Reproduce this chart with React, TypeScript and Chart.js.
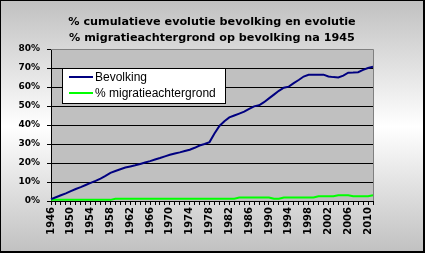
import React, { useEffect, useRef } from "react";
import { Chart, registerables } from "chart.js";

Chart.register(...registerables);

const years: string[] = [];
for (let y = 1946; y <= 2011; y++) years.push(String(y));

const bevolking: number[] = [
  1, 2, 3, 4, 5.2, 6.3, 7.3, 8.4, 9.5, 10.6,
  11.8, 13.2, 14.8, 15.8, 16.7, 17.6, 18.2, 18.8, 19.5, 20.3,
  21, 21.8, 22.6, 23.5, 24.3, 25.0, 25.6, 26.3, 27.0, 28.0,
  29.2, 30.0, 31.0, 35.5, 39.5, 42.0, 44, 45, 46, 47,
  48.5, 49.8, 50.4, 52, 54, 56, 58, 59.6, 60.2, 62,
  63.7, 65.5, 66.4, 66.5, 66.5, 66.5, 65.5, 65.2, 65, 66,
  67.5, 67.6, 67.8, 69, 70, 70.7,
];

const migratie: number[] = [
  0.6, 0.6, 0.6, 0.6, 0.6, 0.6, 0.6, 0.6, 0.6, 0.6,
  0.6, 0.6, 0.6, 1.2, 1.2, 1.2, 1.2, 1.2, 1.2, 1.2,
  1.2, 1.2, 1.2, 1.2, 1.2, 1.2, 1.2, 1.2, 1.2, 1.2,
  1.2, 1.2, 1.2, 1.2, 1.2, 1.2, 1.2, 1.2, 1.8, 1.8,
  1.8, 1.8, 1.8, 1.8, 1.8, 1.2, 1.2, 1.8, 1.8, 1.8,
  1.8, 1.8, 1.8, 1.8, 2.5, 2.5, 2.5, 2.5, 3.0, 3.0,
  3.0, 2.5, 2.5, 2.5, 2.5, 3.0,
];

const seriesNames = ["Bevolking", "% migratieachtergrond"];
const titleLines = [
  "% cumulatieve evolutie bevolking en evolutie",
  "% migratieachtergrond op bevolking na 1945",
];

const bgPlugin = {
  id: "bgPlugin",
  beforeDraw(chart: any) {
    const { ctx, width, height, chartArea } = chart;
    ctx.save();
    const g = ctx.createLinearGradient(0, 0, 0, height);
    g.addColorStop(0, "#c0c0c0");
    g.addColorStop(0.5, "#ffffff");
    g.addColorStop(1, "#c0c0c0");
    ctx.fillStyle = g;
    ctx.fillRect(0, 0, width, height);
    ctx.fillStyle = "#c0c0c0";
    ctx.fillRect(chartArea.left, chartArea.top, chartArea.right - chartArea.left, chartArea.bottom - chartArea.top);
    ctx.restore();
  },
  afterDatasetsDraw(chart: any) {
    const { ctx, width, height, chartArea } = chart;
    ctx.save();
    ctx.strokeStyle = "#808080";
    ctx.lineWidth = 1;
    ctx.beginPath();
    ctx.moveTo(chartArea.left, chartArea.top + 0.5);
    ctx.lineTo(chartArea.right + 0.5, chartArea.top + 0.5);
    ctx.lineTo(chartArea.right + 0.5, chartArea.bottom);
    ctx.stroke();
    ctx.strokeStyle = "#000";
    ctx.strokeRect(0.5, 0.5, width - 1, height - 1);
    ctx.fillStyle = "#000";
    ctx.fillRect(width - 2, 0, 2, height);
    ctx.fillRect(0, height - 2, width, 2);

    // title
    ctx.fillStyle = "#000";
    ctx.font = "bold 11.2px 'DejaVu Sans', Verdana, sans-serif";
    ctx.textAlign = "center";
    ctx.textBaseline = "middle";
    titleLines.forEach((t, i) => ctx.fillText(t, 212, 22 + i * 16));

    // legend box
    const lx = chartArea.left + 11;
    const ly = chartArea.top + 19;
    const lw = 163;
    const lh = 35;
    ctx.fillStyle = "#ffffff";
    ctx.fillRect(lx, ly, lw, lh);
    ctx.strokeStyle = "#000";
    ctx.strokeRect(lx + 0.5, ly + 0.5, lw, lh);
    chart.data.datasets.forEach((ds: any, i: number) => {
      const cy = ly + 9 + i * 16;
      ctx.strokeStyle = ds.borderColor;
      ctx.lineWidth = 2;
      ctx.beginPath();
      ctx.moveTo(lx + 7, cy);
      ctx.lineTo(lx + 31, cy);
      ctx.stroke();
      ctx.fillStyle = "#000";
      ctx.font = "12px 'Liberation Sans', Arial, sans-serif";
      ctx.textBaseline = "middle";
      ctx.textAlign = "left";
      ctx.fillText(ds.label, lx + 33, cy + 0.5);
    });
    ctx.restore();
  },
};

export default function App() {
  const ref = useRef<HTMLCanvasElement>(null);
  useEffect(() => {
    document.body.style.margin = "0";
    const chart = new Chart(ref.current!, {
      type: "line",
      data: {
        labels: years,
        datasets: [
          {
            label: seriesNames[0],
            data: bevolking,
            borderColor: "#000080",
            borderWidth: 2,
            pointRadius: 0,
            tension: 0,
          },
          {
            label: seriesNames[1],
            data: migratie,
            borderColor: "#00ff00",
            borderWidth: 2,
            pointRadius: 0,
            tension: 0,
          },
        ],
      },
      options: {
        animation: false,
        responsive: false,
        layout: { padding: { left: 0, right: 52, top: 49, bottom: 0 } },
        plugins: {
          legend: { display: false },
          tooltip: { enabled: false },
          title: { display: false },
        },
        scales: {
          x: {
            offset: false,
            border: { color: "#000", width: 1 },
            grid: { display: true, drawOnChartArea: false, drawTicks: true, tickLength: 4, color: "#000" },
            ticks: {
              autoSkip: false,
              maxRotation: 90,
              minRotation: 90,
              padding: 2,
              color: "#000",
              font: { family: "'DejaVu Sans', Verdana, sans-serif", size: 10, weight: "bold" },
              callback: (_v: any, i: number) => ((i % 4 === 0) ? years[i] : ""),
            },
            afterFit: (s: any) => { s.height = 52; },
          },
          y: {
            min: 0,
            max: 80,
            border: { color: "#000", width: 1 },
            grid: { color: "#000", tickLength: 4, drawTicks: true },
            ticks: {
              stepSize: 10,
              padding: 7,
              color: "#000",
              font: { family: "'DejaVu Sans', Verdana, sans-serif", size: 9, weight: "bold" },
              callback: (v: any) => v + "%",
            },
            afterFit: (s: any) => { s.width = 51; },
          },
        },
      },
      plugins: [bgPlugin],
    });
    return () => chart.destroy();
  }, []);
  return (
    <div style={{ width: 425, height: 253 }}>
      <canvas ref={ref} width={425} height={253} style={{ display: "block" }} />
    </div>
  );
}
